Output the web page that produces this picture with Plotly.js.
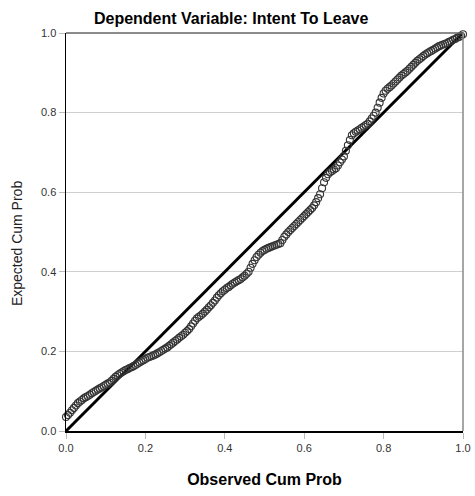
<!DOCTYPE html>
<html>
<head>
<meta charset="utf-8">
<script src="https://cdn.plot.ly/plotly-3.0.1.min.js"></script>
<style>html,body{margin:0;padding:0;background:#fff;}#chart{width:475px;height:496px;}</style>
</head>
<body>
<div id="chart"></div>
<script>
const observedCumProb = [
0.000,0.005,0.010,0.015,0.020,0.025,0.030,0.035,0.040,0.045,
0.050,0.055,0.060,0.065,0.070,0.075,0.080,0.085,0.090,0.095,
0.100,0.105,0.110,0.115,0.120,0.125,0.130,0.135,0.140,0.145,
0.150,0.155,0.160,0.165,0.170,0.175,0.180,0.185,0.190,0.195,
0.200,0.205,0.210,0.215,0.220,0.225,0.230,0.235,0.240,0.245,
0.250,0.255,0.260,0.265,0.270,0.275,0.280,0.285,0.290,0.295,
0.300,0.305,0.310,0.315,0.320,0.325,0.330,0.335,0.340,0.345,
0.350,0.355,0.360,0.365,0.370,0.375,0.380,0.385,0.390,0.395,
0.400,0.405,0.410,0.415,0.420,0.425,0.430,0.435,0.440,0.445,
0.450,0.455,0.460,0.465,0.470,0.475,0.480,0.485,0.490,0.495,
0.500,0.505,0.510,0.515,0.520,0.525,0.530,0.535,0.540,0.545,
0.550,0.555,0.560,0.565,0.570,0.575,0.580,0.585,0.590,0.595,
0.600,0.605,0.610,0.615,0.620,0.625,0.630,0.635,0.640,0.645,
0.650,0.655,0.660,0.665,0.670,0.675,0.680,0.685,0.690,0.695,
0.700,0.705,0.710,0.715,0.720,0.725,0.730,0.735,0.740,0.745,
0.750,0.755,0.760,0.765,0.770,0.775,0.780,0.785,0.790,0.795,
0.800,0.805,0.810,0.815,0.820,0.825,0.830,0.835,0.840,0.845,
0.850,0.855,0.860,0.865,0.870,0.875,0.880,0.885,0.890,0.895,
0.900,0.905,0.910,0.915,0.920,0.925,0.930,0.935,0.940,0.945,
0.950,0.955,0.960,0.965,0.970,0.975,0.980,0.985,0.990,0.995,
1.000];
const expectedCumProb = [
0.035,0.040,0.046,0.052,0.058,0.064,0.070,0.074,0.078,0.082,
0.085,0.088,0.091,0.095,0.098,0.101,0.104,0.107,0.110,0.113,
0.116,0.119,0.122,0.126,0.131,0.136,0.140,0.144,0.147,0.150,
0.153,0.155,0.158,0.160,0.163,0.166,0.169,0.172,0.175,0.178,
0.181,0.184,0.186,0.188,0.190,0.192,0.195,0.198,0.201,0.204,
0.207,0.210,0.214,0.218,0.222,0.226,0.230,0.234,0.238,0.242,
0.247,0.251,0.256,0.263,0.270,0.277,0.283,0.287,0.291,0.295,
0.300,0.305,0.311,0.316,0.322,0.328,0.335,0.341,0.346,0.351,
0.355,0.359,0.362,0.366,0.370,0.373,0.376,0.379,0.382,0.386,
0.390,0.395,0.400,0.410,0.420,0.429,0.437,0.443,0.448,0.452,
0.455,0.458,0.460,0.462,0.464,0.466,0.468,0.470,0.472,0.480,
0.488,0.494,0.500,0.505,0.510,0.515,0.520,0.525,0.530,0.535,
0.540,0.545,0.550,0.555,0.560,0.567,0.575,0.585,0.595,0.610,
0.625,0.636,0.645,0.650,0.653,0.657,0.660,0.667,0.675,0.682,
0.690,0.704,0.718,0.731,0.743,0.748,0.752,0.755,0.758,0.762,
0.765,0.769,0.772,0.778,0.785,0.792,0.800,0.812,0.825,0.837,
0.848,0.855,0.860,0.864,0.868,0.873,0.878,0.883,0.888,0.893,
0.897,0.901,0.905,0.910,0.915,0.920,0.925,0.930,0.934,0.938,
0.942,0.946,0.949,0.952,0.955,0.958,0.961,0.964,0.967,0.969,
0.971,0.973,0.975,0.978,0.980,0.983,0.985,0.988,0.990,0.993,
0.997];
const refLineX = [0, 1];
const refLineY = [0, 1];
const tickVals = [0, 0.2, 0.4, 0.6, 0.8, 1.0];
const tickLabels = ["0.0", "0.2", "0.4", "0.6", "0.8", "1.0"];
const chartTitle = "Dependent Variable: Intent To Leave";
const xTitle = "Observed Cum Prob";
const yTitle = "Expected Cum Prob";

const font = "Liberation Sans, Arial, sans-serif";

const traces = [
  {x: refLineX, y: refLineY, type: 'scatter', mode: 'lines',
   line: {color: '#000', width: 3}, hoverinfo: 'skip', cliponaxis: false},
  {x: observedCumProb, y: expectedCumProb, type: 'scatter', mode: 'markers',
   marker: {symbol: 'circle-open', size: 7, color: '#333', line: {width: 1.1, color: '#333'}},
   cliponaxis: false}
];

const axisCommon = {
  range: [0, 1], tickvals: tickVals, ticktext: tickLabels,
  ticks: 'outside', ticklen: 6, tickcolor: '#bbb', tickwidth: 1,
  tickfont: {family: font, size: 11, color: '#333'},
  showline: true, linecolor: '#000', linewidth: 1.5,
  zeroline: false, fixedrange: true
};

const layout = {
  width: 475, height: 496,
  margin: {l: 66, r: 12, t: 33, b: 65},
  paper_bgcolor: '#fff', plot_bgcolor: '#fff',
  showlegend: false,
  font: {family: font, color: '#000'},
  title: {text: '<b>' + chartTitle + '</b>', font: {family: font, size: 16, color: '#000'},
          x: 0.416, xref: 'paper', xanchor: 'center', y: 0.962, yref: 'container', yanchor: 'middle'},
  xaxis: Object.assign({}, axisCommon, {showgrid: false,
    title: {text: '<b>' + xTitle + '</b>', font: {family: font, size: 16, color: '#000'}, standoff: 21}}),
  yaxis: Object.assign({}, axisCommon, {showgrid: true, gridcolor: '#cfcfcf', gridwidth: 1}),
  annotations: [
    {text: yTitle, xref: 'paper', yref: 'paper', x: -0.123, y: 0.47, xanchor: 'center', yanchor: 'middle',
     textangle: -90, showarrow: false, font: {family: font, size: 14, color: '#222'}}
  ],
  shapes: [
    {type: 'line', xref: 'paper', yref: 'paper', x0: 0, x1: 1, y0: 1, y1: 1, line: {color: '#666', width: 1.5}},
    {type: 'line', xref: 'paper', yref: 'paper', x0: 1, x1: 1, y0: 0, y1: 1, line: {color: '#888', width: 1.5}}
  ]
};

Plotly.newPlot('chart', traces, layout, {displayModeBar: false, staticPlot: true});
</script>
</body>
</html>
